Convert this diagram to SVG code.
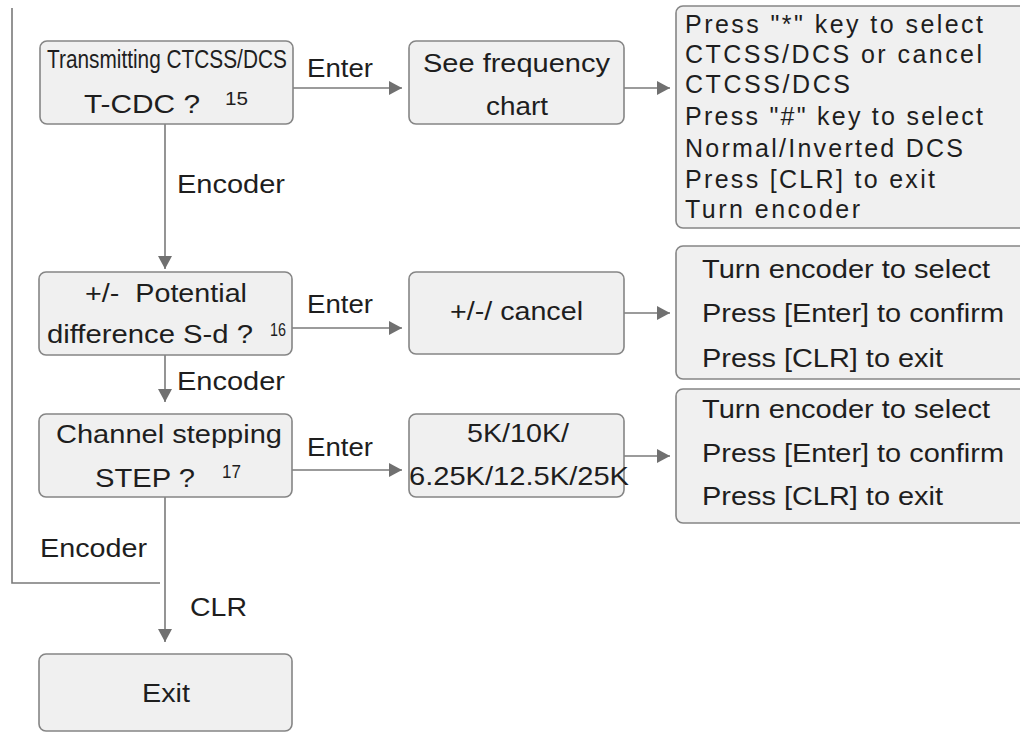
<svg xmlns="http://www.w3.org/2000/svg" width="1020" height="733" viewBox="0 0 1020 733">
<style>
.box{fill:#f0f0f0;stroke:#858585;stroke-width:1.6}
.t{font-family:"Liberation Sans",Arial,sans-serif;fill:#1e1e1e;font-size:25px}
.c{fill:none;stroke:#7a7a7a;stroke-width:1.6}
.s{font-size:18px}
</style>
<defs>
<marker id="ah" viewBox="0 0 13 14" refX="13" refY="7" markerWidth="13" markerHeight="14" markerUnits="userSpaceOnUse" orient="auto">
<path d="M0,0 L13,7 L0,14 z" fill="#707070"/>
</marker>
</defs>
<rect width="1020" height="733" fill="#ffffff"/>

<g id="connectors">
<path class="c" d="M12,8 V583 H160"/>
<path class="c" d="M165,124 V269" marker-end="url(#ah)"/>
<path class="c" d="M293,88 H402" marker-end="url(#ah)"/>
<path class="c" d="M624,88 H670" marker-end="url(#ah)"/>
<path class="c" d="M292,328 H402" marker-end="url(#ah)"/>
<path class="c" d="M624,313 H670" marker-end="url(#ah)"/>
<path class="c" d="M165,355 V402" marker-end="url(#ah)"/>
<path class="c" d="M292,470 H402" marker-end="url(#ah)"/>
<path class="c" d="M624,456 H670" marker-end="url(#ah)"/>
<path class="c" d="M165,497 V642" marker-end="url(#ah)"/>
<text class="t" x="307" y="77" textLength="66" lengthAdjust="spacingAndGlyphs">Enter</text>
<text class="t" x="307" y="313" textLength="66" lengthAdjust="spacingAndGlyphs">Enter</text>
<text class="t" x="307" y="456" textLength="66" lengthAdjust="spacingAndGlyphs">Enter</text>
<text class="t" x="177" y="193" textLength="108" lengthAdjust="spacingAndGlyphs">Encoder</text>
<text class="t" x="177" y="390" textLength="108" lengthAdjust="spacingAndGlyphs">Encoder</text>
<text class="t" x="40" y="557" textLength="107" lengthAdjust="spacingAndGlyphs">Encoder</text>
<text class="t" x="190" y="616" textLength="57" lengthAdjust="spacingAndGlyphs">CLR</text>
</g>

<g id="n-tcdc">
<rect class="box" x="40" y="41" width="253" height="83" rx="7"/>
<text class="t" transform="translate(47,68) scale(0.833,1)" x="0" y="0" font-size="23">Transmitting CTCSS/DCS</text>
<text class="t" x="84" y="113" textLength="116" lengthAdjust="spacingAndGlyphs">T-CDC ?</text>
<text class="t s" x="225" y="105" textLength="23" lengthAdjust="spacingAndGlyphs">15</text>
</g>

<g id="n-freq">
<rect class="box" x="409" y="41" width="215" height="83" rx="7"/>
<text class="t" x="423" y="72" textLength="187" lengthAdjust="spacingAndGlyphs">See frequency</text>
<text class="t" x="486" y="115" textLength="62" lengthAdjust="spacingAndGlyphs">chart</text>
</g>

<g id="n-ctcss-help">
<rect class="box" x="676" y="6" width="360" height="222" rx="7"/>
<text class="t" x="685" y="33" textLength="298">Press "*" key to select</text>
<text class="t" x="685" y="63" textLength="297">CTCSS/DCS or cancel</text>
<text class="t" x="685" y="93" textLength="165">CTCSS/DCS</text>
<text class="t" x="685" y="125" textLength="298">Press "#" key to select</text>
<text class="t" x="685" y="157" textLength="278">Normal/Inverted DCS</text>
<text class="t" x="685" y="188" textLength="250">Press [CLR] to exit</text>
<text class="t" x="685" y="218" textLength="175">Turn encoder</text>
</g>

<g id="n-sd">
<rect class="box" x="39" y="272" width="253" height="83" rx="7"/>
<text class="t" x="85" y="302" textLength="162" lengthAdjust="spacingAndGlyphs" style="white-space:pre">+/-  Potential</text>
<text class="t" x="47" y="343" textLength="206" lengthAdjust="spacingAndGlyphs">difference S-d ?</text>
<text class="t s" x="270" y="336" textLength="16" lengthAdjust="spacingAndGlyphs">16</text>
</g>

<g id="n-cancel">
<rect class="box" x="409" y="272" width="215" height="82" rx="7"/>
<text class="t" x="450" y="320" textLength="133" lengthAdjust="spacingAndGlyphs">+/-/ cancel</text>
</g>

<g id="n-sd-help">
<rect class="box" x="676" y="246" width="360" height="133" rx="7"/>
<text class="t" x="702" y="278" font-size="26" textLength="288" lengthAdjust="spacingAndGlyphs">Turn encoder to select</text>
<text class="t" x="702" y="322" font-size="26" textLength="302" lengthAdjust="spacingAndGlyphs">Press [Enter] to confirm</text>
<text class="t" x="702" y="367" font-size="26" textLength="241" lengthAdjust="spacingAndGlyphs">Press [CLR] to exit</text>
</g>

<g id="n-step">
<rect class="box" x="39" y="414" width="253" height="83" rx="7"/>
<text class="t" x="56" y="443" textLength="226" lengthAdjust="spacingAndGlyphs">Channel stepping</text>
<text class="t" x="95" y="487" textLength="100" lengthAdjust="spacingAndGlyphs">STEP ?</text>
<text class="t s" x="222" y="478" textLength="19" lengthAdjust="spacingAndGlyphs">17</text>
</g>

<g id="n-stepvals">
<rect class="box" x="409" y="414" width="215" height="83" rx="7"/>
<text class="t" x="467" y="442" textLength="102" lengthAdjust="spacingAndGlyphs">5K/10K/</text>
<text class="t" x="409" y="485" textLength="220" lengthAdjust="spacingAndGlyphs">6.25K/12.5K/25K</text>
</g>

<g id="n-step-help">
<rect class="box" x="676" y="389" width="360" height="134" rx="7"/>
<text class="t" x="702" y="418" font-size="26" textLength="288" lengthAdjust="spacingAndGlyphs">Turn encoder to select</text>
<text class="t" x="702" y="462" font-size="26" textLength="302" lengthAdjust="spacingAndGlyphs">Press [Enter] to confirm</text>
<text class="t" x="702" y="505" font-size="26" textLength="241" lengthAdjust="spacingAndGlyphs">Press [CLR] to exit</text>
</g>

<g id="n-exit">
<rect class="box" x="39" y="654" width="253" height="77" rx="7"/>
<text class="t" x="142" y="702" textLength="48" lengthAdjust="spacingAndGlyphs">Exit</text>
</g>
</svg>
